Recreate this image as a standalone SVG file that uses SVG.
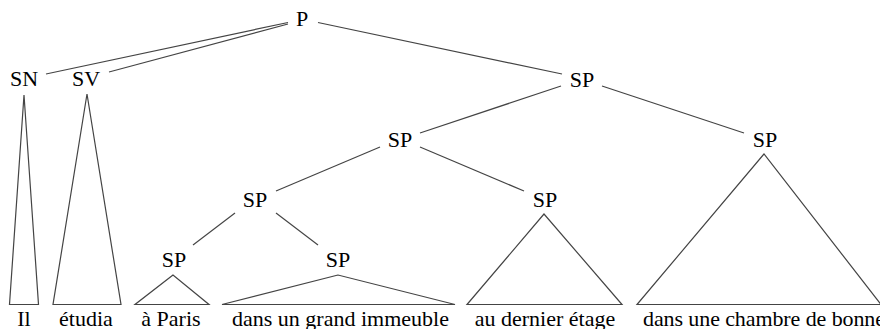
<svg xmlns="http://www.w3.org/2000/svg" width="880" height="329" viewBox="0 0 880 329">
<style>
text { font-family: "Liberation Serif", "DejaVu Serif", "Times New Roman", serif; font-size: 22px; fill: #000; text-anchor: middle; }
line, polygon { stroke: #444; stroke-width: 1.2; fill: none; }
</style>
<rect width="880" height="329" fill="#fff"/>
<g id="connectors">
<line x1="288" y1="22.5" x2="46" y2="74"/>
<line x1="288" y1="24" x2="109" y2="72"/>
<line x1="318" y1="22.5" x2="562" y2="74"/>
<line x1="561" y1="86" x2="420" y2="133"/>
<line x1="602" y1="86" x2="744" y2="133"/>
<line x1="380" y1="147" x2="276" y2="191"/>
<line x1="420" y1="147" x2="524" y2="191"/>
<line x1="235" y1="213" x2="193" y2="245"/>
<line x1="276" y1="213" x2="318" y2="245"/>
</g>
<g id="P"><text x="302" y="26">P</text></g>
<g id="SN"><text x="24" y="86">SN</text><polygon points="24,95 9.5,304.5 38.5,304.5"/></g>
<g id="SV"><text x="86" y="86">SV</text><polygon points="87,94 53,304.5 121,304.5"/></g>
<g id="SP1"><text x="582" y="87">SP</text></g>
<g id="SP2"><text x="400" y="147">SP</text></g>
<g id="SP3"><text x="765" y="147">SP</text><polygon points="764,154 637,304.5 881,304.5"/></g>
<g id="SP4"><text x="255" y="207">SP</text></g>
<g id="SP5"><text x="545" y="207">SP</text><polygon points="544,214 467,304.5 622,304.5"/></g>
<g id="SP6"><text x="174" y="267">SP</text><polygon points="173,275 135,304.5 209,304.5"/></g>
<g id="SP7"><text x="338" y="267">SP</text><polygon points="338,275 222,304.5 455,304.5"/></g>
<g id="words">
<text x="24" y="326">Il</text>
<text x="86" y="326">étudia</text>
<text x="171" y="326">à Paris</text>
<text x="232" y="326" style="text-anchor:start">dans un grand immeuble</text>
<text x="545" y="326">au dernier étage</text>
<text x="643" y="326" style="text-anchor:start" textLength="242">dans une chambre de bonne</text>
</g>
</svg>
